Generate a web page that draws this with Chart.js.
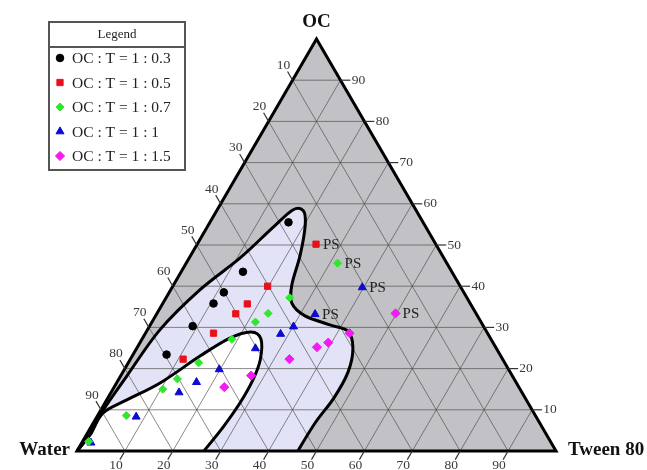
<!DOCTYPE html>
<html>
<head>
<meta charset="utf-8">
<script src="https://cdn.jsdelivr.net/npm/chart.js@4/dist/chart.umd.min.js"></script>
<style>
  html, body { margin: 0; padding: 0; background: #fff; overflow: hidden; }
  #wrap { width: 647px; height: 470px; position: relative; }
</style>
</head>
<body>
<div id="wrap"><canvas id="ternary"></canvas></div>
<script>
// compositions, in % : OC and Tween 80 (water is the rest)
const seriesNames = ['OC : T = 1 : 0.3', 'OC : T = 1 : 0.5', 'OC : T = 1 : 0.7', 'OC : T = 1 : 1', 'OC : T = 1 : 1.5'];

const ocR03 = [55.5, 43.5, 38.5, 35.8, 30.3, 23.4];
const twR03 = [16.4, 12.9, 11.4, 10.6, 9.0, 7.0];

const ocR05 = [50.2, 40.0, 35.7, 33.3, 28.6, 22.3];
const twR05 = [24.8, 19.8, 17.7, 16.5, 14.2, 11.0];

const ocR07 = [45.6, 37.2, 33.4, 31.3, 27.1, 21.4, 17.5, 15.0, 8.6, 2.3];
const twR07 = [31.6, 25.8, 23.2, 21.6, 18.8, 14.7, 12.2, 10.4, 6.0, 1.3];

const ocR1 = [39.7, 33.2, 30.2, 28.4, 24.9, 19.8, 16.7, 14.2, 8.3, 2.0];
const twR1 = [39.7, 33.1, 30.1, 28.3, 24.8, 19.8, 16.6, 14.2, 8.2, 1.9];

const ocR15 = [33.4, 28.6, 26.3, 25.2, 22.3, 18.3, 15.5];
const twR15 = [49.8, 42.6, 39.3, 37.5, 33.2, 27.2, 23.0];

// points marked "PS" (index into each series)
const psR03 = [];
const psR05 = [0];
const psR07 = [0];
const psR1 = [0, 1];
const psR15 = [0];

// region boundaries (OC %, Tween %), starting at the Water corner
const outerOC = [0, 4, 10, 18.2, 29.4, 39.1, 46.8, 54.1, 58.5, 58.3, 54.9, 47.6, 40.3, 35.9, 32.8, 30.6, 29.1, 25.0, 19.2, 12.9, 6.8, 0];
const outerTw = [0, 0.6, 0.5, 1.3, 2.6, 6.1, 10.6, 13.7, 15.8, 18.1, 20.2, 22.8, 24.7, 26.9, 31.2, 37.5, 42.0, 45.1, 47.0, 47.2, 46.3, 46.1];
const innerOC = [0, 4, 9.2, 12.4, 16.5, 23.1, 27.4, 28.9, 27.2, 22.1, 17.2, 11.7, 5.8, 0];
const innerTw = [0, 0.8, 0.8, 4.2, 9.1, 14.2, 18.2, 21.9, 24.8, 27.2, 28.1, 28.2, 27.6, 26.5];

const tickValues = [10, 20, 30, 40, 50, 60, 70, 80, 90];

const series = [
  { oc: ocR03, tw: twR03, ps: psR03, color: '#000000', style: 'circle', r: 3.8 },
  { oc: ocR05, tw: twR05, ps: psR05, color: '#e8101a', style: 'rect', r: 4.4 },
  { oc: ocR07, tw: twR07, ps: psR07, color: '#2ee82e', style: 'rectRot', r: 4 },
  { oc: ocR1, tw: twR1, ps: psR1, color: '#0a0ad0', style: 'triangle', r: 4.6 },
  { oc: ocR15, tw: twR15, ps: psR15, color: '#f21cf2', style: 'rectRot', r: 4.6 }
];

const toXY = (oc, tw) => ({ x: tw + oc / 2, y: oc });

const SERIF = '"Liberation Serif", "Times New Roman", serif';

function splinePath(ctx, pts) {
  ctx.moveTo(pts[0][0], pts[0][1]);
  for (let i = 0; i < pts.length - 1; i++) {
    const p0 = pts[i - 1] || pts[i];
    const p1 = pts[i];
    const p2 = pts[i + 1];
    const p3 = pts[i + 2] || p2;
    ctx.bezierCurveTo(
      p1[0] + (p2[0] - p0[0]) / 6, p1[1] + (p2[1] - p0[1]) / 6,
      p2[0] - (p3[0] - p1[0]) / 6, p2[1] - (p3[1] - p1[1]) / 6,
      p2[0], p2[1]);
  }
}

const ternaryPlugin = {
  id: 'ternary',
  beforeDatasetsDraw(chart) {
    const ctx = chart.ctx;
    const sx = chart.scales.x, sy = chart.scales.y;
    const P = (oc, tw) => [sx.getPixelForValue(tw + oc / 2), sy.getPixelForValue(oc)];
    const W = P(0, 0), T = P(0, 100), O = P(100, 0);

    ctx.save();
    // gray triangle
    ctx.beginPath();
    ctx.moveTo(W[0], W[1]); ctx.lineTo(T[0], T[1]); ctx.lineTo(O[0], O[1]); ctx.closePath();
    ctx.fillStyle = '#c2c1c5';
    ctx.fill();

    const outer = outerOC.map((o, i) => P(o, outerTw[i]));
    const inner = innerOC.map((o, i) => P(o, innerTw[i]));

    ctx.beginPath();
    splinePath(ctx, outer);
    ctx.lineTo(W[0], W[1]);
    ctx.closePath();
    ctx.fillStyle = '#e3e3f7';
    ctx.fill();

    ctx.beginPath();
    splinePath(ctx, inner);
    ctx.lineTo(W[0], W[1]);
    ctx.closePath();
    ctx.fillStyle = '#ffffff';
    ctx.fill();

    // grid
    ctx.lineWidth = 0.8;
    ctx.strokeStyle = 'rgba(70,70,70,0.8)';
    tickValues.forEach(k => {
      const lines = [
        [P(k, 0), P(k, 100 - k)],
        [P(0, k), P(100 - k, k)],
        [P(0, 100 - k), P(100 - k, 0)]
      ];
      lines.forEach(([a, b]) => {
        ctx.beginPath(); ctx.moveTo(a[0], a[1]); ctx.lineTo(b[0], b[1]); ctx.stroke();
      });
    });

    // boundaries
    ctx.lineWidth = 3;
    ctx.strokeStyle = '#000';
    ctx.lineJoin = 'round';
    ctx.beginPath(); splinePath(ctx, outer); ctx.stroke();
    ctx.beginPath(); splinePath(ctx, inner); ctx.stroke();

    // triangle frame
    ctx.lineJoin = 'miter';
    ctx.beginPath();
    ctx.moveTo(W[0], W[1]); ctx.lineTo(T[0], T[1]); ctx.lineTo(O[0], O[1]); ctx.closePath();
    ctx.stroke();

    // ticks and labels
    const c30 = 0.5, s60 = Math.sqrt(3) / 2;
    ctx.lineWidth = 1.2;
    ctx.strokeStyle = '#333';
    ctx.fillStyle = '#3a3a3a';
    ctx.font = '13.5px ' + SERIF;
    ctx.textAlign = 'center';
    ctx.textBaseline = 'middle';
    tickValues.forEach(k => {
      const axes = [
        { p: P(k, 100 - k), d: [1, 0] },            // OC, right edge
        { p: P(0, k), d: [-c30, s60] },              // Tween 80, bottom edge
        { p: P(100 - k, 0), d: [-c30, -s60] }        // Water, left edge
      ];
      axes.forEach(({ p, d }) => {
        ctx.beginPath();
        ctx.moveTo(p[0], p[1]);
        ctx.lineTo(p[0] + d[0] * 10, p[1] + d[1] * 10);
        ctx.stroke();
        ctx.fillText(String(k), p[0] + d[0] * 18, p[1] + d[1] * 17);
      });
    });

    // corner names
    ctx.fillStyle = '#111';
    ctx.font = 'bold 19px ' + SERIF;
    ctx.fillText('OC', O[0], 22);
    ctx.textAlign = 'right';
    ctx.fillText('Water', W[0] - 7, W[1] - 1);
    ctx.textAlign = 'left';
    ctx.fillText('Tween 80', T[0] + 12, T[1] - 1);
    ctx.restore();
  },
  afterDatasetsDraw(chart) {
    const ctx = chart.ctx;
    const sx = chart.scales.x, sy = chart.scales.y;
    ctx.save();
    // PS labels
    ctx.fillStyle = '#222';
    ctx.font = '15px ' + SERIF;
    ctx.textAlign = 'left';
    ctx.textBaseline = 'middle';
    series.forEach(s => {
      s.ps.forEach(i => {
        const v = toXY(s.oc[i], s.tw[i]);
        ctx.fillText('PS', sx.getPixelForValue(v.x) + 7, sy.getPixelForValue(v.y) + 1);
      });
    });

    // legend box
    const bx = 49, by = 22, bw = 136, bh = 148;
    ctx.fillStyle = '#fff';
    ctx.fillRect(bx, by, bw, bh);
    ctx.strokeStyle = '#555';
    ctx.lineWidth = 2;
    ctx.strokeRect(bx, by, bw, bh);
    ctx.beginPath(); ctx.moveTo(bx, by + 25); ctx.lineTo(bx + bw, by + 25); ctx.stroke();
    ctx.fillStyle = '#222';
    ctx.font = '13px ' + SERIF;
    ctx.textAlign = 'center';
    ctx.fillText('Legend', bx + bw / 2, by + 13);
    ctx.font = '15.5px ' + SERIF;
    ctx.textAlign = 'left';
    series.forEach((s, i) => {
      const y = 58 + i * 24.5;
      ctx.fillStyle = s.color;
      ctx.strokeStyle = s.color;
      ctx.lineWidth = 1;
      Chart.helpers.drawPoint(ctx, { pointStyle: s.style, radius: s.r, rotation: 0, borderWidth: 1 }, 60, y);
      ctx.fillStyle = '#222';
      ctx.fillText(seriesNames[i], 72, y + 1);
    });
    ctx.restore();
  }
};

new Chart(document.getElementById('ternary'), {
  type: 'scatter',
  data: {
    datasets: series.map((s, i) => ({
      label: seriesNames[i],
      data: s.oc.map((o, j) => toXY(o, s.tw[j])),
      pointStyle: s.style,
      pointRadius: s.r,
      pointHoverRadius: s.r,
      backgroundColor: s.color,
      borderColor: s.color,
      borderWidth: 1,
      clip: false
    }))
  },
  options: {
    responsive: true,
    maintainAspectRatio: false,
    animation: false,
    layout: { padding: { left: 77, right: 91, top: 39, bottom: 19 } },
    scales: {
      x: { type: 'linear', min: 0, max: 100, display: false },
      y: { type: 'linear', min: 0, max: 100, display: false }
    },
    plugins: { legend: { display: false }, tooltip: { enabled: false } }
  },
  plugins: [ternaryPlugin]
});
</script>
</body>
</html>
